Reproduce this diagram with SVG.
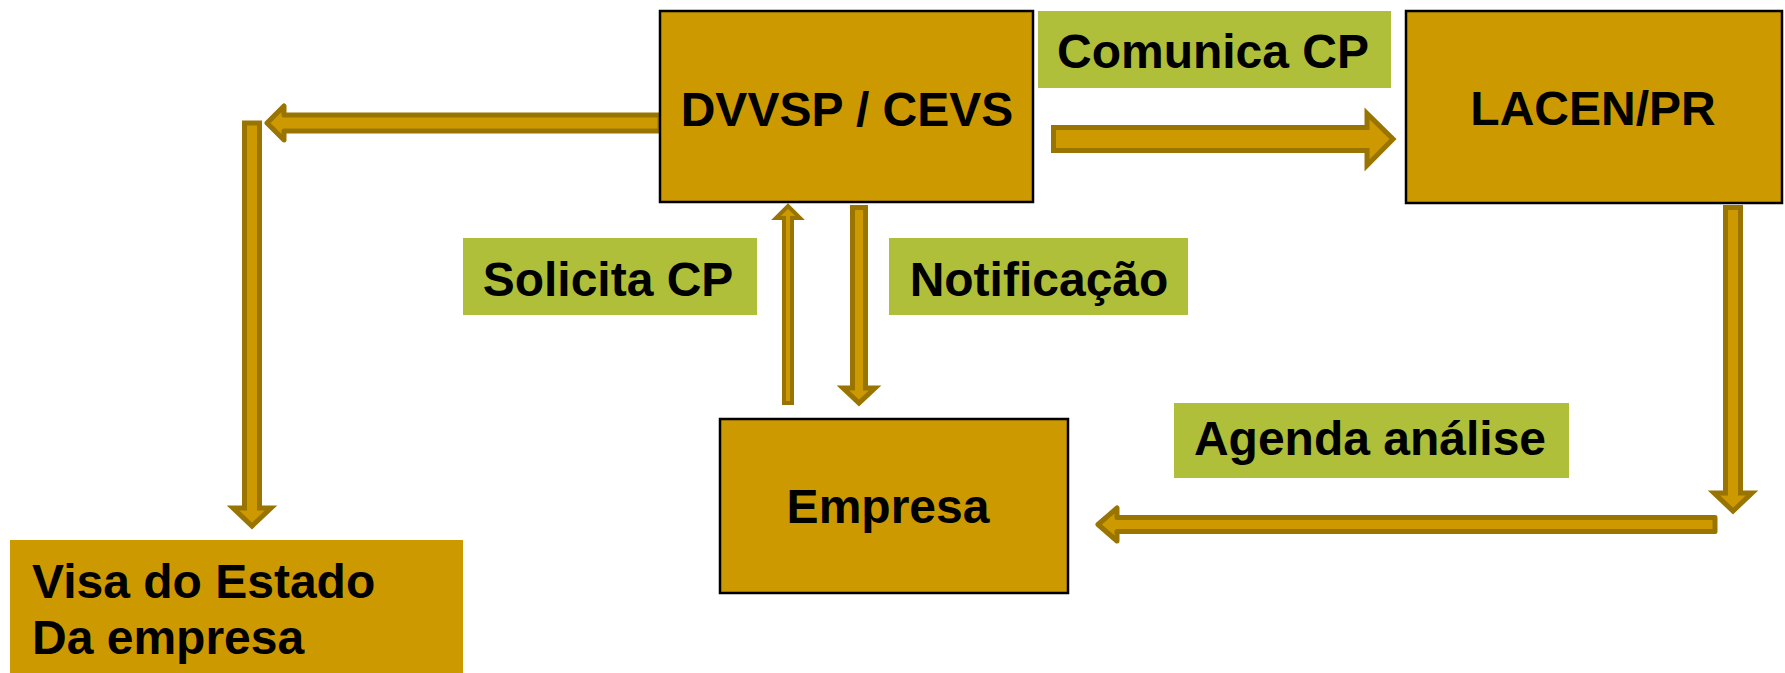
<svg xmlns="http://www.w3.org/2000/svg" width="1785" height="673" viewBox="0 0 1785 673">
<style>
.box{fill:#CC9900;stroke:#000;stroke-width:2.5}
.vbox{fill:#CC9900}
.lbl{fill:#AFBF3A}
.t{font-family:"Liberation Sans",Arial,sans-serif;font-weight:bold;font-size:48px;fill:#000}
.c{text-anchor:middle}
.arr{fill:#CC9900;stroke:#9A7400;stroke-width:5;stroke-linejoin:round}
.arrm{fill:#CC9900;stroke:#9A7400;stroke-width:5;stroke-linejoin:miter}
</style>
<rect width="1785" height="673" fill="#fff"/>
<g id="connectors">
<polygon class="arr" points="267,123 284,106 284,115 660,115 660,131 284,131 284,140"/>
<polygon class="arrm" points="244.5,123 259.5,123 259.5,508 271,508 252,526 233,508 244.5,508"/>
<polygon class="arrm" points="1053.5,127.5 1367,127.5 1367,113.5 1393,139 1367,165.5 1367,150.5 1053.5,150.5"/>
<polygon class="arrm" style="stroke-width:4" points="784,403 784,218 776,218 788,206 800,218 792,218 792,403"/>
<polygon class="arrm" points="852.5,207.5 865.5,207.5 865.5,388 875,388 859,403 843,388 852.5,388"/>
<polygon class="arrm" points="1725.5,207.5 1740.5,207.5 1740.5,493 1752,493 1733,511 1714,493 1725.5,493"/>
<polygon class="arr" points="1715,517.5 1715,531.5 1117,531.5 1117,541 1098,524.5 1117,508 1117,517.5"/>
</g>
<g id="dvvsp">
<rect class="box" x="660" y="11" width="373" height="191"/>
<text class="t c" x="847" y="126">DVVSP / CEVS</text>
</g>
<g id="lacen">
<rect class="box" x="1406" y="11" width="376" height="192"/>
<text class="t c" x="1593" y="125">LACEN/PR</text>
</g>
<g id="empresa">
<rect class="box" x="720" y="419" width="348" height="174"/>
<text class="t c" x="888" y="523">Empresa</text>
</g>
<g id="visa">
<rect class="vbox" x="10" y="540" width="453" height="133"/>
<text class="t" x="32" y="598">Visa do Estado</text>
<text class="t" x="32" y="654">Da empresa</text>
</g>
<g id="lbl-comunica">
<rect class="lbl" x="1038" y="11" width="353" height="77"/>
<text class="t c" x="1213" y="68">Comunica CP</text>
</g>
<g id="lbl-solicita">
<rect class="lbl" x="463" y="238" width="294" height="77"/>
<text class="t c" x="608" y="296">Solicita CP</text>
</g>
<g id="lbl-notificacao">
<rect class="lbl" x="889" y="238" width="299" height="77"/>
<text class="t c" x="1039" y="296">Notificação</text>
</g>
<g id="lbl-agenda">
<rect class="lbl" x="1174" y="403" width="395" height="75"/>
<text class="t c" x="1370" y="455">Agenda análise</text>
</g>
</svg>
